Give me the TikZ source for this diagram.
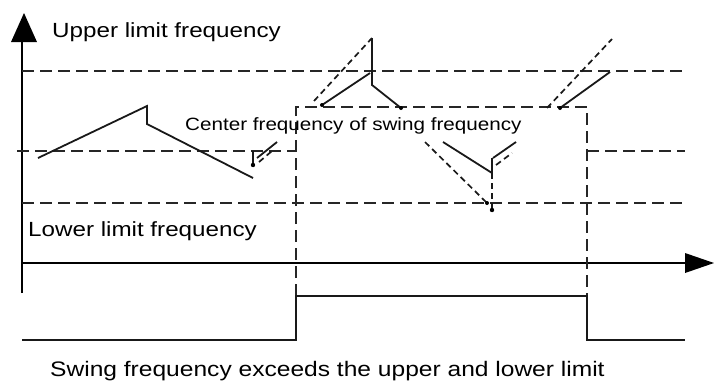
\documentclass[tikz,border=0pt]{standalone}
\usepackage{fontspec}
\setmainfont{Liberation Sans}
\usepackage{graphicx}
\begin{document}
\begin{tikzpicture}[x=1pt,y=-1pt,
  axis/.style={line width=2.6pt, black},
  lim/.style={line width=2.1pt, dash pattern=on 12pt off 6pt, black!85},
  wave/.style={line width=1.8pt, black!90},
  wdash/.style={line width=1.7pt, dash pattern=on 6pt off 4pt, black!90},
  sig/.style={line width=2.4pt, black!90},
  dotm/.style={fill=black},
  lbl/.style={inner sep=0pt, anchor=base west, text=black}]
\useasboundingbox (0,0) rectangle (714,381);

% axes
\coordinate (ybot) at (22,293);
\coordinate (ytop) at (22,40);
\coordinate (xl) at (22,263);
\coordinate (xr) at (690,263);
\draw[axis] (ybot) -- (ytop);
\fill (24,13) -- (37,42) -- (11,42) -- cycle;
\draw[axis] (xl) -- (xr);
\fill (685,253) -- (714,263) -- (685,273) -- cycle;

% limit lines
\draw[lim] (22,71) -- (685,71);
\draw[lim] (22,203) -- (685,203);
\draw[lim] (17,151) -- (296,151);
\draw[lim] (587,151) -- (685,151);
\draw[lim] (296,296) -- (296,107) -- (587,107) -- (587,296);

% output signal
\draw[sig] (22,340) -- (296,340) -- (296,296) -- (587,296) -- (587,340) -- (685,340);

% swing waveform
\draw[wave] (38,158) -- (147,106) -- (147,124) -- (253,178);
\draw[wave] (253,151) -- (253,165);
\fill[dotm] (253,165) circle (2.2);
\draw[wave] (257,158) -- (277,142);
\draw[wdash] (259,162) -- (272,151);

\draw[wdash] (314,101) -- (372,38);
\draw[wave] (322,105) -- (370,73);
\fill[dotm] (322,105) circle (2);
\draw[wave] (372,38) -- (372,85) -- (401,108);
\fill[dotm] (401,108) circle (2);

\draw[wdash] (425,142) -- (487,203);
\fill[dotm] (487,203) circle (2);
\draw[wave] (443,142) -- (492,173);
\draw[wave] (492,158) -- (492,173);
\draw[wdash] (492,173) -- (492,212);
\fill[dotm] (492,210) circle (2.2);
\draw[wave] (493,158) -- (516,142);
\draw[wdash] (496,165) -- (512,153);

\draw[wdash] (547,108) -- (612,39);
\draw[wave] (560,108) -- (610,72);
\fill[dotm] (560,108) circle (2);

% labels
\node[lbl, font=\fontsize{20.5}{24}\selectfont] (upper) at (52,37.5) {\scalebox{1.18}[1]{Upper limit frequency}};
\node[lbl, font=\fontsize{20.5}{24}\selectfont] (lower) at (28,236.5) {\scalebox{1.18}[1]{Lower limit frequency}};
\node[lbl, font=\fontsize{17.8}{21}\selectfont] (center) at (185,130) {\scalebox{1.16}[1]{Center frequency of swing frequency}};
\node[lbl, font=\fontsize{21}{24}\selectfont] (swing) at (50,376.5) {\scalebox{1.17}[1]{Swing frequency exceeds the upper and lower limit}};
\end{tikzpicture}
\end{document}
